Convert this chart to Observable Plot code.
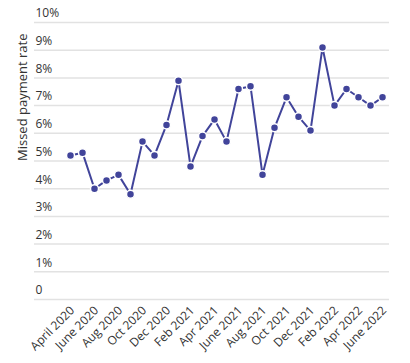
<!DOCTYPE html>
<html>
<head>
<meta charset="utf-8">
<script src="https://cdn.jsdelivr.net/npm/d3@7"></script>
<script src="https://cdn.jsdelivr.net/npm/@observablehq/plot@0.6"></script>
<style>
  html, body { margin: 0; padding: 0; background: #fff; }
  #chart svg { display: block; }
</style>
</head>
<body>
<div id="chart"></div>
<script>
const months = ["2020-04","2020-05","2020-06","2020-07","2020-08","2020-09","2020-10","2020-11","2020-12",
  "2021-01","2021-02","2021-03","2021-04","2021-05","2021-06","2021-07","2021-08","2021-09","2021-10","2021-11","2021-12",
  "2022-01","2022-02","2022-03","2022-04","2022-05","2022-06"];
const rates = [5.2,5.3,4.0,4.3,4.5,3.8,5.7,5.2,6.3,7.9,4.8,5.9,6.5,5.7,7.6,7.7,4.5,6.2,7.3,6.6,6.1,9.1,7.0,7.6,7.3,7.0,7.3];
const tickMonths = ["2020-04","2020-06","2020-08","2020-10","2020-12","2021-02","2021-04","2021-06","2021-08","2021-10","2021-12","2022-02","2022-04","2022-06"];
const tickLabels = ["April 2020","June 2020","Aug 2020","Oct 2020","Dec 2020","Feb 2021","Apr 2021","June 2021","Aug 2021","Oct 2021","Dec 2021","Feb 2022","Apr 2022","June 2022"];
const yTicks = [0,1,2,3,4,5,6,7,8,9,10];
const yTickLabels = ["0","1%","2%","3%","4%","5%","6%","7%","8%","9%","10%"];
const yLabel = "Missed payment rate";

const data = months.map((m, i) => ({idx: i, rate: rates[i]}));
const color = "#41449a";

const chart = Plot.plot({
  width: 410,
  height: 363,
  marginLeft: 34,
  marginRight: 21,
  marginTop: 22,
  marginBottom: 64,
  style: {fontFamily: "'Open Sans', sans-serif", fontSize: "12px", color: "#333"},
  x: {type: "linear", domain: [-3, months.length - 1 + 0.583], axis: null},
  y: {domain: [0, 10], axis: null},
  marks: [
    Plot.ruleY(yTicks, {stroke: "#e2e2e2", strokeWidth: 1.5}),
    Plot.text(yTicks, {y: d => d, frameAnchor: "left", text: (d, i) => yTickLabels[i], textAnchor: "start", dx: 1, dy: -9, fill: "#333", fontSize: 12}),
    Plot.text([yLabel], {frameAnchor: "left", rotate: -90, dx: -12, fill: "#333", fontSize: 13}),
    Plot.text(tickMonths, {x: d => months.indexOf(d), frameAnchor: "bottom", text: (d, i) => tickLabels[i], rotate: -45, textAnchor: "end", lineAnchor: "middle", dx: 2, dy: 9, fill: "#333", fontSize: 12}),
    Plot.line(data, {x: "idx", y: "rate", stroke: color, strokeWidth: 2}),
    Plot.dot(data, {x: "idx", y: "rate", r: 4, fill: color, stroke: "#fff", strokeWidth: 1.5})
  ]
});
document.getElementById("chart").appendChild(chart);
</script>
</body>
</html>
